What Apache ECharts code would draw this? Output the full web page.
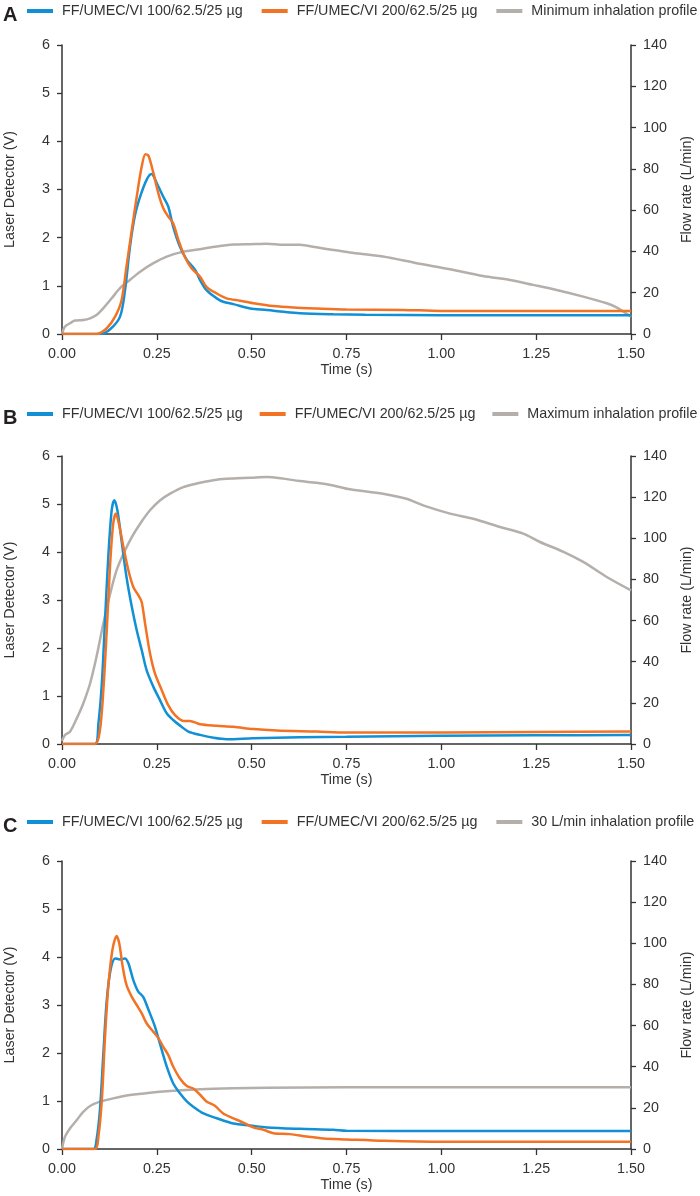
<!DOCTYPE html>
<html>
<head>
<meta charset="utf-8">
<script src="https://cdn.jsdelivr.net/npm/echarts@6/dist/echarts.min.js"></script>
<style>html,body{margin:0;padding:0;background:#fff}#c{width:700px;height:1196px}</style>
</head>
<body>
<div id="c"></div>
<script>
// ---------- DATA ----------
var xTicks = [0, 0.25, 0.5, 0.75, 1.0, 1.25, 1.5];
var seriesNames = ["FF/UMEC/VI 100/62.5/25 µg", "FF/UMEC/VI 200/62.5/25 µg"];
var profileNames = ["Minimum inhalation profile", "Maximum inhalation profile", "30 L/min inhalation profile"];
var panelLetters = ["A", "B", "C"];

// Panel A
var A_blue_t = [0, 0.10, 0.127, 0.153, 0.166, 0.179, 0.192, 0.206, 0.223, 0.236, 0.25, 0.267, 0.28, 0.293, 0.311, 0.329, 0.351, 0.364, 0.381, 0.408, 0.425, 0.452, 0.496, 0.54, 0.584, 0.627, 0.715, 0.80, 1.0, 1.25, 1.5];
var A_blue_v = [0, 0, 0.10, 0.36, 0.9, 1.8, 2.45, 2.85, 3.2, 3.32, 3.13, 2.85, 2.65, 2.23, 1.81, 1.54, 1.33, 1.12, 0.91, 0.74, 0.67, 0.62, 0.53, 0.50, 0.46, 0.43, 0.41, 0.40, 0.39, 0.39, 0.39];
var A_orange_t = [0, 0.091, 0.118, 0.14, 0.157, 0.17, 0.184, 0.197, 0.21, 0.22, 0.228, 0.241, 0.254, 0.267, 0.28, 0.293, 0.307, 0.324, 0.342, 0.364, 0.381, 0.408, 0.434, 0.469, 0.504, 0.557, 0.61, 0.671, 0.75, 0.9, 1.0, 1.25, 1.5];
var A_orange_v = [0, 0, 0.12, 0.36, 0.7, 1.4, 2.16, 2.85, 3.47, 3.73, 3.7, 3.34, 2.92, 2.61, 2.44, 2.3, 1.95, 1.6, 1.36, 1.19, 0.98, 0.84, 0.74, 0.69, 0.64, 0.58, 0.55, 0.53, 0.51, 0.50, 0.48, 0.48, 0.48];
var A_gray_t = [0, 0.008, 0.021, 0.034, 0.056, 0.074, 0.091, 0.109, 0.131, 0.153, 0.179, 0.206, 0.241, 0.276, 0.32, 0.364, 0.408, 0.452, 0.496, 0.54, 0.584, 0.627, 0.671, 0.715, 0.759, 0.846, 0.935, 1.023, 1.11, 1.181, 1.242, 1.304, 1.374, 1.436, 1.463, 1.5];
var A_gray_f = [0, 3.6, 5.2, 6.5, 6.8, 7.6, 9.2, 12.5, 17.3, 22.2, 26.2, 30.2, 34.3, 37.5, 39.9, 41.1, 42.4, 43.3, 43.5, 43.7, 43.2, 43.2, 42.0, 40.7, 39.5, 37.5, 34.3, 31.4, 28.1, 26.2, 23.8, 21.3, 18.1, 14.9, 12.8, 8.4];

// Panel B
var B_blue_t = [0, 0.087, 0.096, 0.105, 0.113, 0.122, 0.131, 0.138, 0.146, 0.157, 0.17, 0.184, 0.197, 0.21, 0.223, 0.241, 0.258, 0.276, 0.293, 0.315, 0.333, 0.364, 0.40, 0.434, 0.504, 0.627, 0.75, 1.0, 1.25, 1.5];
var B_blue_v = [0, 0, 0.43, 1.26, 2.51, 3.9, 4.87, 5.08, 4.87, 4.24, 3.48, 2.86, 2.37, 1.96, 1.54, 1.19, 0.92, 0.64, 0.50, 0.36, 0.26, 0.19, 0.13, 0.10, 0.12, 0.14, 0.15, 0.17, 0.18, 0.19];
var B_orange_t = [0, 0.087, 0.10, 0.109, 0.118, 0.127, 0.135, 0.142, 0.15, 0.162, 0.175, 0.188, 0.201, 0.21, 0.219, 0.232, 0.245, 0.263, 0.28, 0.298, 0.32, 0.337, 0.364, 0.408, 0.452, 0.504, 0.566, 0.671, 0.75, 1.0, 1.25, 1.5];
var B_orange_v = [0, 0, 0.29, 1.12, 2.37, 3.76, 4.59, 4.80, 4.59, 4.10, 3.62, 3.27, 3.10, 2.96, 2.51, 1.89, 1.47, 1.12, 0.81, 0.60, 0.48, 0.48, 0.41, 0.38, 0.36, 0.31, 0.28, 0.26, 0.24, 0.24, 0.25, 0.26];
var B_gray_t = [0, 0.008, 0.021, 0.039, 0.056, 0.074, 0.091, 0.109, 0.127, 0.144, 0.162, 0.184, 0.206, 0.232, 0.258, 0.285, 0.32, 0.364, 0.408, 0.452, 0.496, 0.54, 0.584, 0.627, 0.671, 0.715, 0.759, 0.846, 0.908, 0.952, 1.023, 1.084, 1.155, 1.216, 1.26, 1.322, 1.374, 1.436, 1.5];
var B_gray_f = [1.5, 4.4, 6.0, 12.5, 19.7, 29.4, 42.4, 58.6, 73.1, 84.5, 92.5, 100.6, 107.1, 113.6, 118.4, 121.7, 124.9, 127.0, 128.5, 129.1, 129.4, 129.8, 129.0, 127.8, 127.0, 125.7, 123.8, 121.7, 119.2, 116.0, 112.0, 109.5, 105.5, 102.3, 98.2, 93.4, 88.5, 81.2, 74.7];

// Panel C
var C_blue_t = [0, 0.083, 0.091, 0.10, 0.109, 0.118, 0.128, 0.14, 0.153, 0.166, 0.175, 0.188, 0.201, 0.214, 0.228, 0.245, 0.258, 0.276, 0.293, 0.311, 0.329, 0.346, 0.373, 0.408, 0.452, 0.496, 0.54, 0.627, 0.715, 0.75, 1.0, 1.25, 1.5];
var C_blue_v = [0, 0, 0.19, 0.81, 1.99, 3.10, 3.73, 3.97, 3.95, 3.97, 3.87, 3.52, 3.28, 3.17, 2.90, 2.55, 2.20, 1.72, 1.37, 1.16, 0.99, 0.88, 0.74, 0.64, 0.53, 0.49, 0.45, 0.42, 0.40, 0.38, 0.375, 0.375, 0.375];
var C_orange_t = [0, 0.087, 0.096, 0.105, 0.113, 0.122, 0.133, 0.144, 0.151, 0.16, 0.17, 0.184, 0.197, 0.21, 0.223, 0.241, 0.254, 0.267, 0.28, 0.293, 0.311, 0.329, 0.346, 0.364, 0.381, 0.403, 0.425, 0.452, 0.478, 0.504, 0.531, 0.557, 0.601, 0.645, 0.689, 0.75, 0.85, 1.0, 1.25, 1.5];
var C_orange_v = [0, 0, 0.26, 1.02, 2.27, 3.38, 4.15, 4.44, 4.28, 3.80, 3.42, 3.17, 3.00, 2.83, 2.62, 2.44, 2.31, 2.13, 1.96, 1.72, 1.47, 1.31, 1.26, 1.13, 0.99, 0.90, 0.74, 0.64, 0.55, 0.45, 0.40, 0.33, 0.31, 0.26, 0.22, 0.20, 0.17, 0.15, 0.15, 0.15];
var C_gray_t = [0, 0.008, 0.021, 0.039, 0.056, 0.074, 0.10, 0.135, 0.179, 0.232, 0.285, 0.364, 0.452, 0.54, 0.75, 1.0, 1.25, 1.5];
var C_gray_f = [0, 6.0, 10.0, 14.1, 18.1, 20.9, 23.0, 24.6, 26.2, 27.4, 28.2, 29.0, 29.5, 29.8, 30.0, 30.0, 30.0, 30.0];

// ---------- STYLE ----------
var BLUE = '#1190d5', ORANGE = '#f37324', GRAY = '#b4afab';
var FONT = "'Liberation Sans', Arial, sans-serif";
var TXT = '#333333';
var AX = '#333333';
var FS = 14.3;

function zip(t, v) { return t.map(function (x, i) { return [x, v[i]]; }); }

var panels = [
  { letter: panelLetters[0], top: 45, height: 289, legendTop: 4, gap: 19, blue: zip(A_blue_t, A_blue_v), orange: zip(A_orange_t, A_orange_v), gray: zip(A_gray_t, A_gray_f), grayName: profileNames[0] },
  { letter: panelLetters[1], top: 456, height: 288, legendTop: 407, gap: 17, blue: zip(B_blue_t, B_blue_v), orange: zip(B_orange_t, B_orange_v), gray: zip(B_gray_t, B_gray_f), grayName: profileNames[1] },
  { letter: panelLetters[2], top: 861, height: 288, legendTop: 815, gap: 19, blue: zip(C_blue_t, C_blue_v), orange: zip(C_orange_t, C_orange_v), gray: zip(C_gray_t, C_gray_f), grayName: profileNames[2] }
];

var grids = [], xAxes = [], yAxes = [], series = [], legends = [], graphics = [];
panels.forEach(function (p, i) {
  grids.push({ left: 62, width: 569, top: p.top, height: p.height, containLabel: false, outerBoundsMode: 'none' });
  xAxes.push({
    type: 'value', gridIndex: i, min: xTicks[0], max: xTicks[xTicks.length - 1], interval: 0.25,
    name: 'Time (s)', nameLocation: 'middle', nameGap: 29,
    nameTextStyle: { fontFamily: FONT, fontSize: FS, color: TXT },
    axisLine: { show: true, onZero: false, lineStyle: { color: AX, width: 1.5 } },
    axisTick: { show: true, length: 6, lineStyle: { color: AX, width: 1.3 } },
    axisLabel: { margin: 13, fontFamily: FONT, fontSize: FS, color: TXT, formatter: function (v) { return v.toFixed(2); } },
    splitLine: { show: false }
  });
  yAxes.push({
    type: 'value', gridIndex: i, position: 'left', min: 0, max: 6, interval: 1,
    name: 'Laser Detector (V)', nameLocation: 'middle', nameGap: 45, nameRotate: 90,
    nameTextStyle: { fontFamily: FONT, fontSize: FS, color: TXT },
    axisLine: { show: true, lineStyle: { color: AX, width: 1.5 } },
    axisTick: { show: true, length: 5, lineStyle: { color: AX, width: 1.3 } },
    axisLabel: { margin: 12, fontFamily: FONT, fontSize: FS, color: TXT },
    splitLine: { show: false }
  });
  yAxes.push({
    type: 'value', gridIndex: i, position: 'right', min: 0, max: 140, interval: 20,
    name: 'Flow rate (L/min)', nameLocation: 'middle', nameGap: 49, nameRotate: 90,
    nameTextStyle: { fontFamily: FONT, fontSize: FS, color: TXT },
    axisLine: { show: true, lineStyle: { color: AX, width: 1.5 } },
    axisTick: { show: true, length: 5, lineStyle: { color: AX, width: 1.3 } },
    axisLabel: { margin: 12, fontFamily: FONT, fontSize: FS, color: TXT },
    splitLine: { show: false }
  });
  var common = { type: 'line', xAxisIndex: i, showSymbol: false, symbol: 'none', smooth: 0.3, animation: false };
  series.push(Object.assign({}, common, { name: p.grayName, yAxisIndex: 2 * i + 1, data: p.gray, lineStyle: { color: GRAY, width: 2.5 }, itemStyle: { color: GRAY }, z: 1 }));
  series.push(Object.assign({}, common, { name: seriesNames[0], yAxisIndex: 2 * i, data: p.blue, lineStyle: { color: BLUE, width: 2.5 }, itemStyle: { color: BLUE }, z: 2 }));
  series.push(Object.assign({}, common, { name: seriesNames[1], yAxisIndex: 2 * i, data: p.orange, lineStyle: { color: ORANGE, width: 2.5 }, itemStyle: { color: ORANGE }, z: 3 }));
  legends.push({
    left: 27, top: p.legendTop, width: 700, padding: 0, itemGap: p.gap, itemWidth: 26, itemHeight: 4, icon: 'rect',
    selectedMode: false,
    data: [
      { name: seriesNames[0], itemStyle: { color: BLUE } },
      { name: seriesNames[1], itemStyle: { color: ORANGE } },
      { name: p.grayName, itemStyle: { color: GRAY } }
    ],
    textStyle: { fontFamily: FONT, fontSize: FS, color: TXT, padding: [0, 0, 0, 4] }
  });
  graphics.push({
    type: 'text', left: 3, top: p.legendTop + 1,
    style: { text: p.letter, font: "bold 20px 'Liberation Sans', Arial, sans-serif", fill: '#231f20' }
  });
});

var chart = echarts.init(document.getElementById('c'), null, { renderer: 'canvas' });
chart.setOption({
  animation: false,
  backgroundColor: '#ffffff',
  grid: grids, xAxis: xAxes, yAxis: yAxes, series: series, legend: legends, graphic: graphics
});
</script>
</body>
</html>
